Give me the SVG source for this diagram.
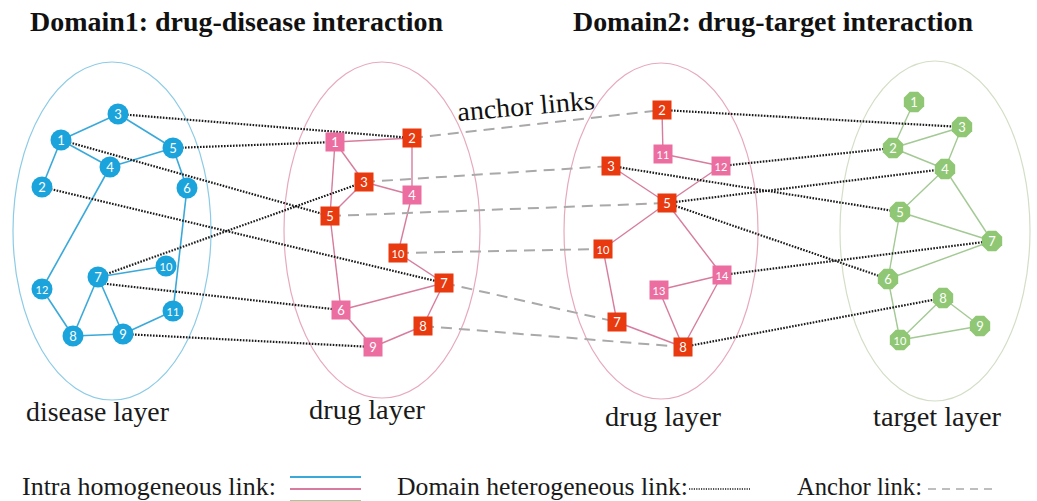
<svg xmlns="http://www.w3.org/2000/svg" xmlns:xlink="http://www.w3.org/1999/xlink" width="1037" height="501" viewBox="0 0 1037 501">
<style>
.title{font-family:"Liberation Serif","Times New Roman",serif;font-weight:bold;font-size:28px;fill:#111}
.lbl{font-family:"Liberation Serif","Times New Roman",serif;font-size:28px;fill:#1a1a1a}
.leg{font-family:"Liberation Serif","Times New Roman",serif;font-size:25.5px;fill:#1a1a1a}
.anc-t{font-family:"Liberation Serif","Times New Roman",serif;font-size:27px;fill:#111}
.nt{font-family:Lato,"Open Sans",sans-serif;font-size:13px;fill:#fff;text-anchor:middle;dominant-baseline:central}
.nt2{font-family:Lato,"Open Sans",sans-serif;font-size:11px;fill:#fff;text-anchor:middle;dominant-baseline:central}
.ell-b{fill:none;stroke:#8ccbe6;stroke-width:1.2}
.ell-p{fill:none;stroke:#e7a9bc;stroke-width:1.2}
.ell-g{fill:none;stroke:#d3dec6;stroke-width:1.2}
.eb{stroke:#3aa9da;stroke-width:1.6;fill:none}
.ep{stroke:#d77c9e;stroke-width:1.4;fill:none}
.eg{stroke:#a3c994;stroke-width:1.4;fill:none}
.dot{stroke:#1a1a1a;stroke-width:2.2;stroke-dasharray:1.6 1.4;fill:none}
.anc{stroke:#a9a9a9;stroke-width:2;stroke-dasharray:11 7;fill:none}
.cb{fill:#1ba3dc}
.sr{fill:#e8390f}
.sp{fill:#ec6ea0}
.og{fill:#90c774}
</style>
<defs>
<rect id="sq" x="-9.5" y="-9.5" width="19" height="19"/>
<polygon id="oct" points="11,0 7.8,7.8 0,11 -7.8,7.8 -11,0 -7.8,-7.8 0,-11 7.8,-7.8" transform="rotate(22.5)"/>
</defs>
<rect width="1037" height="501" fill="#fff"/>

<text class="title" x="30" y="31" textLength="413" lengthAdjust="spacingAndGlyphs">Domain1: drug-disease interaction</text>
<text class="title" x="573" y="31" textLength="400" lengthAdjust="spacingAndGlyphs">Domain2: drug-target interaction</text>

<g id="layers">
<ellipse class="ell-b" cx="112" cy="231" rx="99" ry="169"/>
<ellipse class="ell-p" cx="382" cy="230" rx="98" ry="168"/>
<ellipse class="ell-p" cx="661" cy="231" rx="97" ry="168"/>
<ellipse class="ell-g" cx="935" cy="231" rx="95" ry="170"/>
</g>

<g id="intra-links">
<g class="eb">
<line x1="61" y1="140" x2="118" y2="114"/>
<line x1="118" y1="114" x2="173" y2="148"/>
<line x1="61" y1="140" x2="110" y2="167"/>
<line x1="110" y1="167" x2="173" y2="148"/>
<line x1="61" y1="140" x2="42" y2="187"/>
<line x1="173" y1="148" x2="187" y2="188"/>
<line x1="187" y1="188" x2="173" y2="311"/>
<line x1="110" y1="167" x2="42" y2="289"/>
<line x1="42" y1="289" x2="73" y2="336"/>
<line x1="73" y1="336" x2="98" y2="277"/>
<line x1="73" y1="336" x2="123" y2="334"/>
<line x1="98" y1="277" x2="123" y2="334"/>
<line x1="123" y1="334" x2="173" y2="311"/>
<line x1="98" y1="277" x2="166" y2="266"/>
</g>
<g class="ep">
<line x1="335" y1="142" x2="412" y2="138"/>
<line x1="335" y1="142" x2="364" y2="182"/>
<line x1="364" y1="182" x2="412" y2="195"/>
<line x1="364" y1="182" x2="330" y2="216"/>
<line x1="335" y1="142" x2="330" y2="216"/>
<line x1="330" y1="216" x2="341" y2="310"/>
<line x1="412" y1="138" x2="412" y2="195"/>
<line x1="412" y1="195" x2="398" y2="253"/>
<line x1="398" y1="253" x2="444" y2="283"/>
<line x1="444" y1="283" x2="341" y2="310"/>
<line x1="444" y1="283" x2="423" y2="326"/>
<line x1="341" y1="310" x2="373" y2="347"/>
<line x1="373" y1="347" x2="423" y2="326"/>
<line x1="662" y1="110" x2="663" y2="154"/>
<line x1="663" y1="154" x2="721" y2="166"/>
<line x1="721" y1="166" x2="667" y2="203"/>
<line x1="611" y1="166" x2="667" y2="203"/>
<line x1="667" y1="203" x2="603" y2="249"/>
<line x1="667" y1="203" x2="722" y2="275"/>
<line x1="603" y1="249" x2="617" y2="322"/>
<line x1="617" y1="322" x2="683" y2="347"/>
<line x1="659" y1="290" x2="722" y2="275"/>
<line x1="659" y1="290" x2="683" y2="347"/>
<line x1="722" y1="275" x2="683" y2="347"/>
</g>
<g class="eg">
<line x1="914" y1="102" x2="893" y2="148"/>
<line x1="893" y1="148" x2="962" y2="127"/>
<line x1="893" y1="148" x2="945" y2="169"/>
<line x1="962" y1="127" x2="945" y2="169"/>
<line x1="945" y1="169" x2="900" y2="212"/>
<line x1="945" y1="169" x2="992" y2="241"/>
<line x1="900" y1="212" x2="992" y2="241"/>
<line x1="900" y1="212" x2="888" y2="279"/>
<line x1="888" y1="279" x2="992" y2="241"/>
<line x1="888" y1="279" x2="900" y2="340"/>
<line x1="943" y1="298" x2="900" y2="340"/>
<line x1="943" y1="298" x2="980" y2="326"/>
<line x1="980" y1="326" x2="900" y2="340"/>
</g>
</g>

<g id="connectors">
<g class="dot">
<line x1="118" y1="114" x2="412" y2="138"/>
<line x1="173" y1="148" x2="335" y2="142"/>
<line x1="61" y1="140" x2="330" y2="216"/>
<line x1="42" y1="187" x2="444" y2="283"/>
<line x1="98" y1="277" x2="364" y2="182"/>
<line x1="98" y1="283" x2="341" y2="310"/>
<line x1="123" y1="334" x2="373" y2="347"/>
<line x1="662" y1="110" x2="962" y2="127"/>
<line x1="721" y1="166" x2="893" y2="148"/>
<line x1="611" y1="166" x2="900" y2="212"/>
<line x1="667" y1="203" x2="945" y2="169"/>
<line x1="667" y1="203" x2="888" y2="279"/>
<line x1="722" y1="275" x2="992" y2="241"/>
<line x1="683" y1="347" x2="943" y2="298"/>
</g>
<g class="anc">
<line x1="412" y1="138" x2="662" y2="110"/>
<line x1="364" y1="182" x2="611" y2="166"/>
<line x1="330" y1="216" x2="667" y2="203"/>
<line x1="398" y1="253" x2="603" y2="249"/>
<line x1="444" y1="283" x2="617" y2="322"/>
<line x1="423" y1="326" x2="683" y2="347"/>
</g>
</g>

<text class="anc-t" x="458" y="121" transform="rotate(-5 458 121)" textLength="138" lengthAdjust="spacingAndGlyphs">anchor links</text>

<g id="disease-nodes">
<g id="dis1"><circle class="cb" cx="61" cy="140" r="10.5"/><text class="nt" x="61" y="140">1</text></g>
<g id="dis2"><circle class="cb" cx="42" cy="187" r="10.5"/><text class="nt" x="42" y="187">2</text></g>
<g id="dis3"><circle class="cb" cx="118" cy="114" r="10.5"/><text class="nt" x="118" y="114">3</text></g>
<g id="dis4"><circle class="cb" cx="110" cy="167" r="10.5"/><text class="nt" x="110" y="167">4</text></g>
<g id="dis5"><circle class="cb" cx="173" cy="148" r="10.5"/><text class="nt" x="173" y="148">5</text></g>
<g id="dis6"><circle class="cb" cx="187" cy="188" r="10.5"/><text class="nt" x="187" y="188">6</text></g>
<g id="dis7"><circle class="cb" cx="98" cy="277" r="10.5"/><text class="nt" x="98" y="277">7</text></g>
<g id="dis8"><circle class="cb" cx="73" cy="336" r="10.5"/><text class="nt" x="73" y="336">8</text></g>
<g id="dis9"><circle class="cb" cx="123" cy="334" r="10.5"/><text class="nt" x="123" y="334">9</text></g>
<g id="dis10"><circle class="cb" cx="166" cy="266" r="10.5"/><text class="nt2" x="166" y="266">10</text></g>
<g id="dis11"><circle class="cb" cx="173" cy="311" r="10.5"/><text class="nt2" x="173" y="311">11</text></g>
<g id="dis12"><circle class="cb" cx="42" cy="289" r="10.5"/><text class="nt2" x="42" y="289">12</text></g>
</g>

<g id="drug1-nodes">
<g id="dA1"><use href="#sq" class="sp" x="335" y="142"/><text class="nt" x="335" y="142">1</text></g>
<g id="dA2"><use href="#sq" class="sr" x="412" y="138"/><text class="nt" x="412" y="138">2</text></g>
<g id="dA3"><use href="#sq" class="sr" x="364" y="182"/><text class="nt" x="364" y="182">3</text></g>
<g id="dA4"><use href="#sq" class="sp" x="412" y="195"/><text class="nt" x="412" y="195">4</text></g>
<g id="dA5"><use href="#sq" class="sr" x="330" y="216"/><text class="nt" x="330" y="216">5</text></g>
<g id="dA6"><use href="#sq" class="sp" x="341" y="310"/><text class="nt" x="341" y="310">6</text></g>
<g id="dA7"><use href="#sq" class="sr" x="444" y="283"/><text class="nt" x="444" y="283">7</text></g>
<g id="dA8"><use href="#sq" class="sr" x="423" y="326"/><text class="nt" x="423" y="326">8</text></g>
<g id="dA9"><use href="#sq" class="sp" x="373" y="347"/><text class="nt" x="373" y="347">9</text></g>
<g id="dA10"><use href="#sq" class="sr" x="398" y="253"/><text class="nt2" x="398" y="253">10</text></g>
</g>

<g id="drug2-nodes">
<g id="dB2"><use href="#sq" class="sr" x="662" y="110"/><text class="nt" x="662" y="110">2</text></g>
<g id="dB3"><use href="#sq" class="sr" x="611" y="166"/><text class="nt" x="611" y="166">3</text></g>
<g id="dB5"><use href="#sq" class="sr" x="667" y="203"/><text class="nt" x="667" y="203">5</text></g>
<g id="dB7"><use href="#sq" class="sr" x="617" y="322"/><text class="nt" x="617" y="322">7</text></g>
<g id="dB8"><use href="#sq" class="sr" x="683" y="347"/><text class="nt" x="683" y="347">8</text></g>
<g id="dB10"><use href="#sq" class="sr" x="603" y="249"/><text class="nt2" x="603" y="249">10</text></g>
<g id="dB11"><use href="#sq" class="sp" x="663" y="154"/><text class="nt2" x="663" y="154">11</text></g>
<g id="dB12"><use href="#sq" class="sp" x="721" y="166"/><text class="nt2" x="721" y="166">12</text></g>
<g id="dB13"><use href="#sq" class="sp" x="659" y="290"/><text class="nt2" x="659" y="290">13</text></g>
<g id="dB14"><use href="#sq" class="sp" x="722" y="275"/><text class="nt2" x="722" y="275">14</text></g>
</g>

<g id="target-nodes">
<g id="tg1"><use href="#oct" class="og" x="914" y="102"/><text class="nt" x="914" y="102">1</text></g>
<g id="tg2"><use href="#oct" class="og" x="893" y="148"/><text class="nt" x="893" y="148">2</text></g>
<g id="tg3"><use href="#oct" class="og" x="962" y="127"/><text class="nt" x="962" y="127">3</text></g>
<g id="tg4"><use href="#oct" class="og" x="945" y="169"/><text class="nt" x="945" y="169">4</text></g>
<g id="tg5"><use href="#oct" class="og" x="900" y="212"/><text class="nt" x="900" y="212">5</text></g>
<g id="tg6"><use href="#oct" class="og" x="888" y="279"/><text class="nt" x="888" y="279">6</text></g>
<g id="tg7"><use href="#oct" class="og" x="992" y="241"/><text class="nt" x="992" y="241">7</text></g>
<g id="tg8"><use href="#oct" class="og" x="943" y="298"/><text class="nt" x="943" y="298">8</text></g>
<g id="tg9"><use href="#oct" class="og" x="980" y="326"/><text class="nt" x="980" y="326">9</text></g>
<g id="tg10"><use href="#oct" class="og" x="900" y="340"/><text class="nt2" x="900" y="340">10</text></g>
</g>

<g id="layer-labels">
<text class="lbl" x="26" y="421" textLength="143" lengthAdjust="spacingAndGlyphs">disease layer</text>
<text class="lbl" x="309" y="419" textLength="116" lengthAdjust="spacingAndGlyphs">drug layer</text>
<text class="lbl" x="605" y="426" textLength="116" lengthAdjust="spacingAndGlyphs">drug layer</text>
<text class="lbl" x="873" y="426" textLength="128" lengthAdjust="spacingAndGlyphs">target layer</text>
</g>

<g id="legend">
<text class="leg" x="22" y="495" textLength="254" lengthAdjust="spacingAndGlyphs">Intra homogeneous link:</text>
<line x1="290" y1="477" x2="361" y2="477" stroke="#3aa9da" stroke-width="2"/>
<line x1="290" y1="489" x2="361" y2="489" stroke="#d77c9e" stroke-width="2"/>
<line x1="290" y1="501" x2="361" y2="501" stroke="#a3c994" stroke-width="2"/>
<text class="leg" x="397" y="495" textLength="291" lengthAdjust="spacingAndGlyphs">Domain heterogeneous link:</text>
<line x1="689" y1="489" x2="750" y2="489" stroke="#1a1a1a" stroke-width="1.6" stroke-dasharray="1.2 1.2"/>
<text class="leg" x="797" y="495" textLength="125" lengthAdjust="spacingAndGlyphs">Anchor link:</text>
<line x1="928" y1="489" x2="996" y2="489" stroke="#a9a9a9" stroke-width="1.6" stroke-dasharray="8 6"/>
</g>
</svg>
